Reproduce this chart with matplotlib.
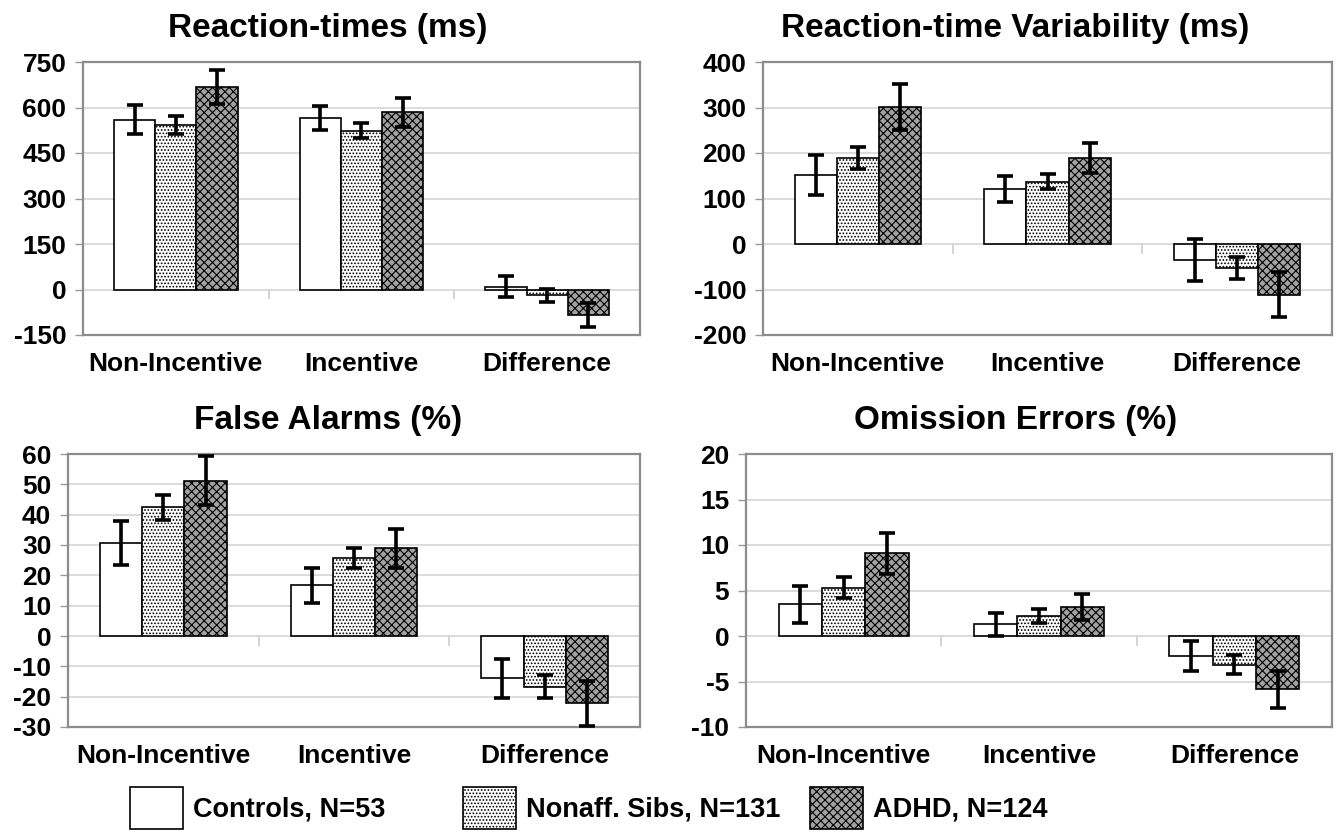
import matplotlib as mpl
mpl.use('Agg')
import matplotlib.pyplot as plt
import matplotlib.transforms as mtransforms
from matplotlib.patches import Patch
import numpy as np

plt.rcParams['font.family'] = ['Liberation Sans', 'DejaVu Sans']
plt.rcParams['font.weight'] = 'bold'
plt.rcParams['hatch.linewidth'] = 0.8
plt.rcParams['axes.unicode_minus'] = False

categories = ['Non-Incentive', 'Incentive', 'Difference']
groups = ['Controls, N=53', 'Nonaff. Sibs, N=131', 'ADHD, N=124']

# Reaction-times (ms)
rt_mean = [[560, 566, 9], [543, 524, -19], [667, 584, -83]]
rt_err = [[47, 40, 35], [30, 25, 21], [56, 47, 40]]
# Reaction-time variability (ms)
rtv_mean = [[152, 121, -35], [189, 137, -53], [301, 189, -111]]
rtv_err = [[44, 28, 46], [25, 16, 25], [50, 32, 50]]
# False alarms (%)
fa_mean = [[30.6, 16.7, -14.0], [42.4, 25.7, -16.8], [51.2, 28.9, -22.2]]
fa_err = [[7.3, 5.8, 6.4], [4.0, 3.4, 3.8], [8.0, 6.5, 7.5]]
# Omission errors (%)
om_mean = [[3.47, 1.29, -2.2], [5.3, 2.2, -3.14], [9.08, 3.17, -5.87]]
om_err = [[2.0, 1.28, 1.7], [1.15, 0.8, 1.05], [2.25, 1.45, 2.0]]

panels = [
    ('Reaction-times (ms)', rt_mean, rt_err, (-150, 750), 150),
    ('Reaction-time Variability (ms)', rtv_mean, rtv_err, (-200, 400), 100),
    ('False Alarms (%)', fa_mean, fa_err, (-30, 60), 10),
    ('Omission Errors (%)', om_mean, om_err, (-10, 20), 5),
]

# axes boxes in pixels: left, top, right, bottom, title centre x
W, H = 1341, 840
boxes = [(83, 62, 640, 335, 328), (763, 62, 1332, 335, 1015),
         (68, 454, 640, 727, 328), (746, 454, 1332, 727, 1016)]

styles = [
    dict(facecolor='white', hatch=None),
    dict(facecolor='white', hatch='.....'),
    dict(facecolor='#a2a2a2', hatch='xxxx'),
]

fig = plt.figure(figsize=(W / 100, H / 100), dpi=100)

x = np.arange(len(categories))
w = 0.222

for (title, means, errs, ylim, step), (l, t, r, b, tx) in zip(panels, boxes):
    ax = fig.add_axes([l / W, (H - b) / H, (r - l) / W, (b - t) / H])
    for i in range(3):
        st = styles[i]
        bars = ax.bar(x + (i - 1) * w, means[i], w, color=st['facecolor'],
                      edgecolor='black', linewidth=1.2, zorder=3)
        if st['hatch']:
            for bar in bars:
                bar.set_hatch(st['hatch'])
        ax.errorbar(x + (i - 1) * w, means[i], yerr=errs[i], fmt='none',
                    ecolor='black', elinewidth=2.6, capsize=6, capthick=2.6,
                    zorder=4)
    ax.set_ylim(*ylim)
    ax.set_xlim(-0.5, 2.5)
    ax.set_yticks(np.arange(ylim[0], ylim[1] + step / 2, step))
    ax.yaxis.grid(True, color='#d9d9d9', linewidth=1.3, zorder=0)
    ax.set_axisbelow(True)
    ax.set_xticks(x)
    ax.set_xticklabels(categories, fontsize=19, fontweight='bold')
    ax.tick_params(axis='x', length=0, pad=12)
    ax.tick_params(axis='y', length=6, width=1, color='#999999',
                   labelsize=19, pad=6)
    for s in ax.spines.values():
        s.set_color('#8c8c8c')
        s.set_linewidth(1.6)
    # category separator ticks on the zero line
    trans = mtransforms.blended_transform_factory(ax.transData, ax.transAxes)
    z = (0 - ylim[0]) / (ylim[1] - ylim[0])
    ax.vlines([0.5, 1.5], z - 0.035, z, transform=trans, color='#d0d0d0',
              linewidth=1.3, zorder=1)
    ax.set_title(title, fontsize=24, fontweight='bold', pad=18,
                 x=(tx - l) / (r - l))

# legend: three evenly spaced entries
legend_x = [130, 463, 810]
for st, label, lx in zip(styles, groups, legend_x):
    h = Patch(facecolor=st['facecolor'], edgecolor='black',
              hatch=st['hatch'], linewidth=1.2)
    fig.legend([h], [label], loc='center left',
               bbox_to_anchor=(lx / W, 1 - 808 / H), frameon=False,
               borderpad=0, borderaxespad=0,
               prop=dict(weight='bold', size=19.5),
               handlelength=1.95, handleheight=2.0, handletextpad=0.38)

fig.savefig('out.png', dpi=100)
